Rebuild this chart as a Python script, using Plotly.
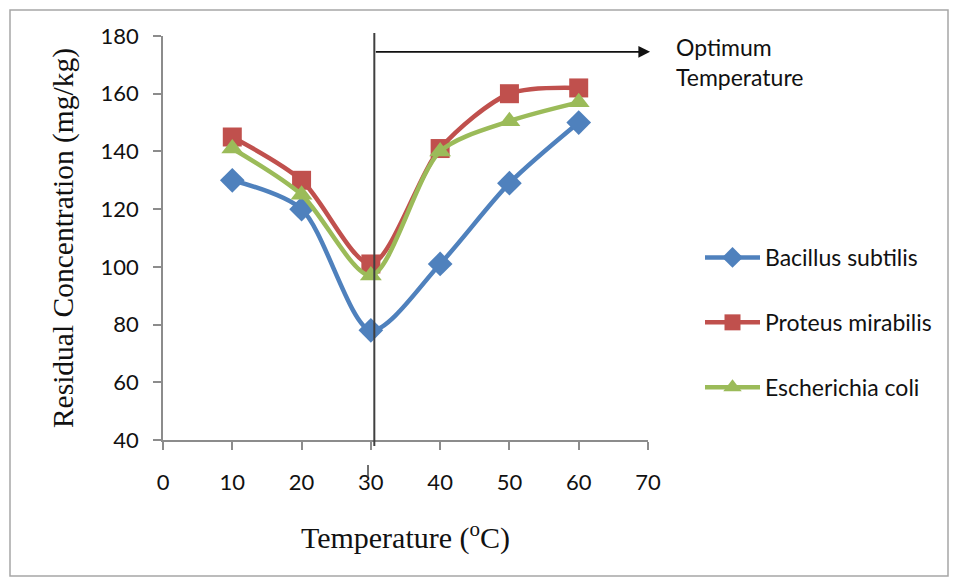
import plotly.graph_objects as go

temps = [10, 20, 30, 40, 50, 60]
bacillus = [130, 120, 78, 101, 129, 150]
proteus = [145, 130, 101, 141, 160, 162]
ecoli = [141, 125, 97, 140, 150.5, 157]

names = ["Bacillus subtilis", "Proteus mirabilis", "Escherichia coli"]
colors = ["#4F81BD", "#C0504D", "#9BBB59"]
symbols = ["diamond", "square", "triangle-up"]
sizes = [19, 19, 19]
series = [bacillus, proteus, ecoli]

x_ticks = [0, 10, 20, 30, 40, 50, 60, 70]
y_ticks = [40, 60, 80, 100, 120, 140, 160, 180]

W, H = 958, 578
L, R, T, B = 163, 310, 36, 138
pw, ph = W - L - R, H - T - B

def px(xp):
    return (xp - L) / pw

def py(yp):
    return (H - B - yp) / ph

fig = go.Figure()
for i, (nm, vals) in enumerate(zip(names, series)):
    fig.add_trace(go.Scatter(
        x=temps, y=vals, name=nm, mode="lines+markers",
        line=dict(color=colors[i], width=4.5, shape="spline", smoothing=0.8),
        marker=dict(symbol=symbols[i], size=sizes[i], color=colors[i]),
        legendgroup=nm,
    ))

sans = "Lato, Noto Sans, sans-serif"
tick_font = dict(family=sans, size=22, color="#111111")
serif = "Liberation Serif, Times New Roman, serif"

fig.update_layout(
    width=W, height=H,
    margin=dict(l=L, r=R, t=T, b=B),
    paper_bgcolor="white", plot_bgcolor="white",
    showlegend=True,
    legend=dict(x=px(700), y=py(236), xanchor="left", yanchor="top",
                font=dict(family=sans, size=23, color="#111111"),
                tracegroupgap=32, itemwidth=55, bgcolor="rgba(0,0,0,0)"),
    xaxis=dict(range=[0, 70], tickvals=x_ticks, showgrid=False, zeroline=False,
               showline=True, linecolor="#8c8c8c", linewidth=1.5,
               ticks="outside", ticklen=8, tickcolor="#8c8c8c", tickwidth=1.5,
               tickfont=tick_font, ticklabelstandoff=14,
               title=dict(text="Temperature (<sup>o</sup>C)", standoff=33,
                          font=dict(family=serif, size=30, color="#111111"))),
    yaxis=dict(range=[40, 180], tickvals=y_ticks, showgrid=False, zeroline=False,
               showline=True, linecolor="#8c8c8c", linewidth=1.5,
               ticks="outside", ticklen=8, tickcolor="#8c8c8c", tickwidth=1.5,
               tickfont=tick_font, ticklabelstandoff=10,
               title=dict(text="Residual Concentration (mg/kg)", standoff=18,
                          font=dict(family=serif, size=29.5, color="#111111"))),
)

# outer frame
fig.add_shape(type="rect", xref="paper", yref="paper",
              x0=px(10), x1=px(948), y0=py(576), y1=py(10),
              line=dict(color="#a6a6a6", width=1.5), fillcolor="rgba(0,0,0,0)", layer="below")

# vertical optimum line
fig.add_shape(type="line", xref="x", yref="paper", x0=30.5, x1=30.5,
              y0=py(446), y1=py(33), line=dict(color="#404040", width=2))

# small marker near 30 label
fig.add_shape(type="line", xref="paper", yref="paper", x0=px(368), x1=px(368),
              y0=py(477), y1=py(465), line=dict(color="#404040", width=1.5))

# arrow
fig.add_annotation(x=70.3, y=174.5, ax=30.5, ay=174.5, xref="x", yref="y",
                   axref="x", ayref="y", text="", showarrow=True,
                   arrowhead=2, arrowsize=1.3, arrowwidth=1.8, arrowcolor="#111111")

fig.add_annotation(xref="paper", yref="paper", x=px(674), y=py(31), xanchor="left", yanchor="top",
                   text="Optimum<br>Temperature", showarrow=False, align="left",
                   font=dict(family=sans, size=23, color="#111111"))

fig.write_html("out.html")
